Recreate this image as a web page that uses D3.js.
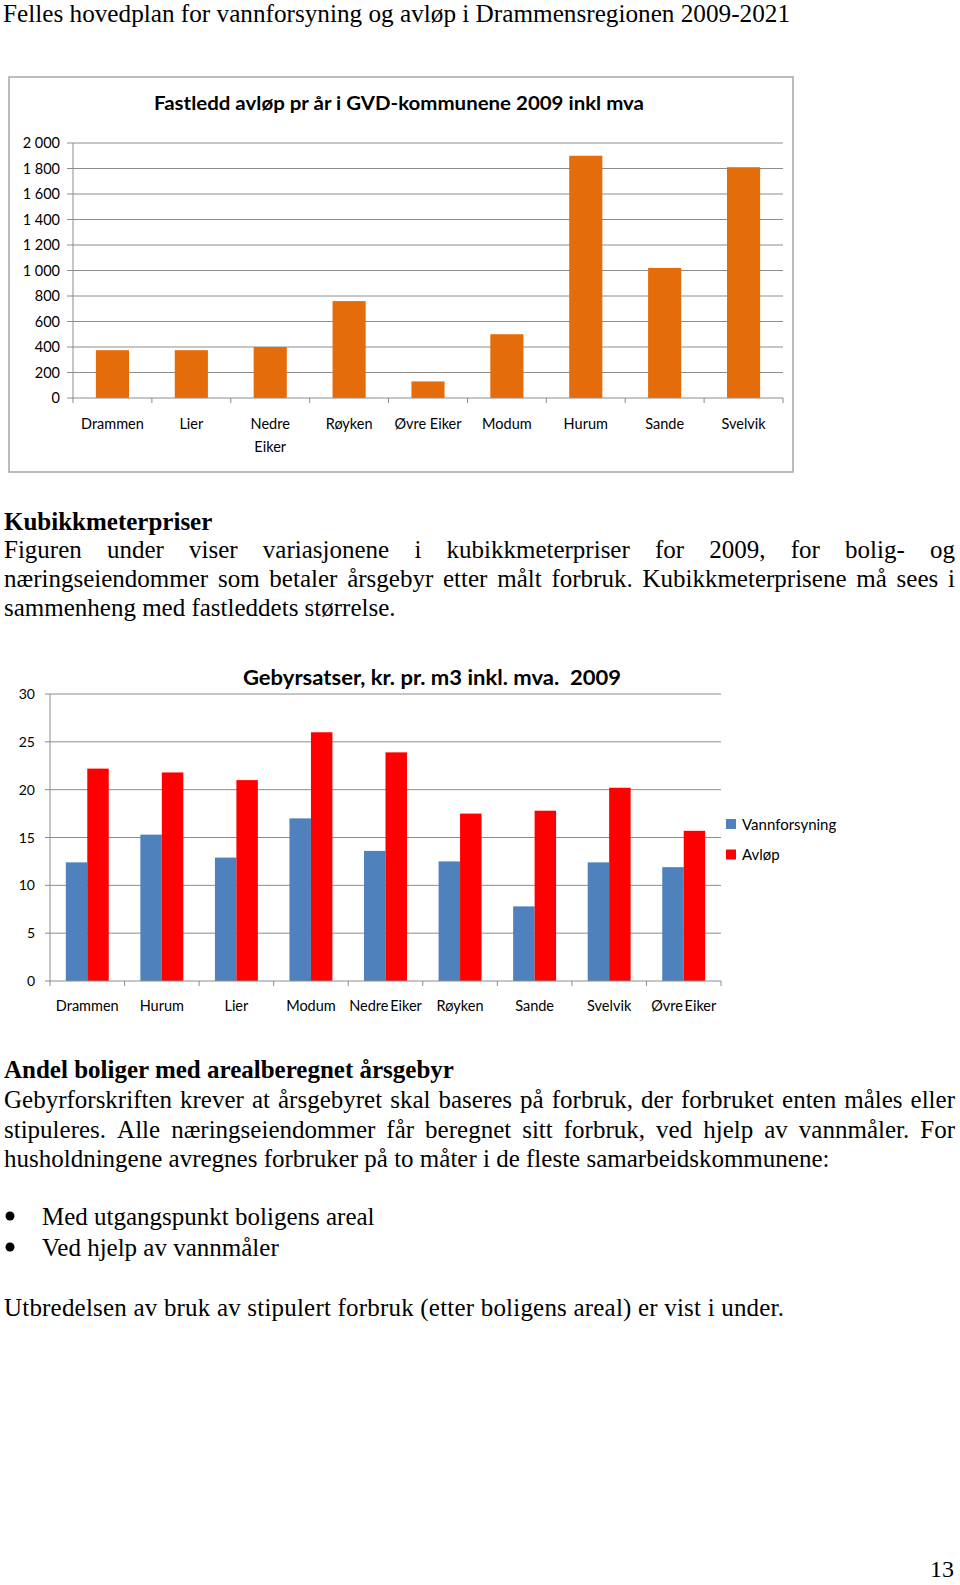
<!DOCTYPE html>
<html>
<head>
<meta charset="utf-8">
<script src="https://cdn.jsdelivr.net/npm/d3@7"></script>
<style>
  body { margin: 0; background: #fff; }
  svg { display: block; }
</style>
</head>
<body>
<svg id="page" width="960" height="1585"></svg>
<script>
// top chart: fixed charge per year
const topCats = ["Drammen", "Lier", "Nedre\nEiker", "Røyken", "Øvre Eiker", "Modum", "Hurum", "Sande", "Svelvik"];
const topValues = [375, 375, 400, 760, 130, 500, 1900, 1020, 1810];
const topTicks = [0, 200, 400, 600, 800, 1000, 1200, 1400, 1600, 1800, 2000];

// bottom chart: price per m3
const bottomCats = ["Drammen", "Hurum", "Lier", "Modum", "Nedre Eiker", "Røyken", "Sande", "Svelvik", "Øvre Eiker"];
const vannforsyning = [12.4, 15.3, 12.9, 17.0, 13.6, 12.5, 7.8, 12.4, 11.9];
const avlop = [22.2, 21.8, 21.0, 26.0, 23.9, 17.5, 17.8, 20.2, 15.7];
const bottomTicks = [0, 5, 10, 15, 20, 25, 30];
const seriesNames = ["Vannforsyning", "Avløp"];

const chartFont = "Lato, 'Open Sans', sans-serif";
const bodyFont = "'Liberation Serif', 'Times New Roman', serif";
const gridColour = "#8c8c8c";

const svg = d3.select("#page");

const fmt = d3.formatLocale({ decimal: ",", thousands: " ", grouping: [3], currency: ["", ""] }).format(",d");

const justifyLine = (text, x0, x1, y, size, weight) => {
    const words = text.split(" ");
    const nodes = words.map(w => svg.append("text")
        .attr("y", y)
        .attr("font-family", bodyFont)
        .attr("font-size", size)
        .attr("font-weight", weight || "normal")
        .attr("fill", "#000")
        .text(w));
    const widths = nodes.map(n => n.node().getComputedTextLength());
    const gap = (x1 - x0 - d3.sum(widths)) / (words.length - 1);
    let x = x0;
    nodes.forEach((n, i) => {
        n.attr("x", x);
        x += widths[i] + gap;
    });
};

const plainLine = (text, x, y, size, weight) => svg.append("text")
    .attr("x", x)
    .attr("y", y)
    .attr("font-family", bodyFont)
    .attr("font-size", size)
    .attr("font-weight", weight || "normal")
    .attr("fill", "#000")
    .text(text);

// page header
svg.append("text")
    .attr("x", 3).attr("y", 22)
    .attr("font-family", bodyFont)
    .attr("font-size", 26)
    .attr("textLength", 787)
    .attr("lengthAdjust", "spacingAndGlyphs")
    .text("Felles hovedplan for vannforsyning og avløp i Drammensregionen 2009-2021");

// ---------- top chart ----------
const renderTopChart = () => {
    svg.append("rect")
        .attr("x", 9).attr("y", 77).attr("width", 784).attr("height", 395)
        .attr("fill", "none").attr("stroke", "#a6a6a6").attr("stroke-width", 1.5);

    svg.append("text")
        .attr("x", 399).attr("y", 110)
        .attr("text-anchor", "middle")
        .attr("font-family", chartFont).attr("font-weight", "bold").attr("font-size", 18)
        .attr("textLength", 490).attr("lengthAdjust", "spacingAndGlyphs")
        .text("Fastledd avløp pr år i GVD-kommunene 2009 inkl mva");

    const left = 73, right = 783, top = 143, bottom = 398;
    const x = d3.scaleBand().domain(topCats).range([left, right]).paddingInner(0.58).paddingOuter(0.29);
    const y = d3.scaleLinear().domain([0, 2000]).range([bottom, top]);

    const g = svg.append("g");

    g.selectAll(".grid").data(topTicks.slice(1)).join("line")
        .attr("class", "grid")
        .attr("x1", left - 6).attr("x2", right)
        .attr("y1", d => y(d)).attr("y2", d => y(d))
        .attr("stroke", gridColour).attr("stroke-width", 1);

    g.append("line").attr("x1", left).attr("x2", left).attr("y1", top).attr("y2", bottom + 0.5)
        .attr("stroke", gridColour);

    g.selectAll(".bar").data(topValues).join("rect")
        .attr("class", "bar")
        .attr("x", (d, i) => x(topCats[i]))
        .attr("width", x.bandwidth())
        .attr("y", d => y(d))
        .attr("height", d => bottom - y(d))
        .attr("fill", "#e46c0a");

    // x axis with ticks between categories
    g.append("line").attr("x1", left - 6).attr("x2", right).attr("y1", bottom).attr("y2", bottom)
        .attr("stroke", gridColour);
    const step = x.step();
    g.selectAll(".xtick").data(d3.range(topCats.length + 1)).join("line")
        .attr("class", "xtick")
        .attr("x1", i => left + i * step).attr("x2", i => left + i * step)
        .attr("y1", bottom).attr("y2", bottom + 5)
        .attr("stroke", gridColour);

    g.selectAll(".ylab").data(topTicks).join("text")
        .attr("class", "ylab")
        .attr("x", 60).attr("y", d => y(d) + 5)
        .attr("text-anchor", "end")
        .attr("font-family", chartFont).attr("font-size", 14.5)
        .text(d => fmt(d));

    const labels = g.selectAll(".xlab").data(topCats).join("text")
        .attr("class", "xlab")
        .attr("text-anchor", "middle")
        .attr("font-family", chartFont).attr("font-size", 14.5);
    labels.each(function(d) {
        const cx = x(d) + x.bandwidth() / 2;
        d3.select(this).selectAll("tspan").data(d.split("\n")).join("tspan")
            .attr("x", cx)
            .attr("y", (t, i) => 429 + i * 22.5)
            .text(t => t);
    });
};

// ---------- bottom chart ----------
const renderBottomChart = () => {
    const left = 50, right = 721, top = 694, bottom = 981;
    const x = d3.scaleBand().domain(bottomCats).range([left, right]).paddingInner(0.424).paddingOuter(0.212);
    const xs = d3.scaleBand().domain(seriesNames).range([0, x.bandwidth()]);
    const y = d3.scaleLinear().domain([0, 30]).range([bottom, top]);
    const colours = d3.scaleOrdinal().domain(seriesNames).range(["#4f81bd", "#ff0000"]);

    svg.append("text")
        .attr("x", 432).attr("y", 685)
        .attr("text-anchor", "middle")
        .attr("font-family", chartFont).attr("font-weight", "bold").attr("font-size", 20.5)
        .attr("textLength", 378).attr("lengthAdjust", "spacingAndGlyphs")
        .attr("xml:space", "preserve")
        .text("Gebyrsatser, kr. pr. m3 inkl. mva.  2009");

    const g = svg.append("g");

    g.selectAll(".grid").data(bottomTicks.slice(1)).join("line")
        .attr("class", "grid")
        .attr("x1", left - 5).attr("x2", right)
        .attr("y1", d => y(d)).attr("y2", d => y(d))
        .attr("stroke", gridColour).attr("stroke-width", 1);

    g.append("line").attr("x1", left).attr("x2", left).attr("y1", top).attr("y2", bottom + 0.5)
        .attr("stroke", gridColour);

    const rows = bottomCats.map((c, i) => ({ cat: c, values: [vannforsyning[i], avlop[i]] }));

    g.selectAll(".group").data(rows).join("g")
        .attr("class", "group")
        .attr("transform", d => `translate(${x(d.cat)},0)`)
        .selectAll("rect").data(d => d.values.map((v, i) => ({ key: seriesNames[i], value: v })))
        .join("rect")
        .attr("x", d => xs(d.key))
        .attr("width", xs.bandwidth())
        .attr("y", d => y(d.value))
        .attr("height", d => bottom - y(d.value))
        .attr("fill", d => colours(d.key));

    g.append("line").attr("x1", left - 5).attr("x2", right).attr("y1", bottom).attr("y2", bottom)
        .attr("stroke", gridColour);
    const step = x.step();
    g.selectAll(".xtick").data(d3.range(bottomCats.length + 1)).join("line")
        .attr("class", "xtick")
        .attr("x1", i => left + i * step).attr("x2", i => left + i * step)
        .attr("y1", bottom).attr("y2", bottom + 5)
        .attr("stroke", gridColour);

    g.selectAll(".ylab").data(bottomTicks).join("text")
        .attr("class", "ylab")
        .attr("x", 35).attr("y", d => y(d) + 5)
        .attr("text-anchor", "end")
        .attr("font-family", chartFont).attr("font-size", 14)
        .text(d => d);

    g.selectAll(".xlab").data(bottomCats).join("text")
        .attr("class", "xlab")
        .attr("x", d => x(d) + x.bandwidth() / 2)
        .attr("y", 1011)
        .attr("text-anchor", "middle")
        .attr("font-family", chartFont).attr("font-size", 14.5)
        .attr("word-spacing", -2)
        .text(d => d);

    const legend = g.selectAll(".legend").data(seriesNames).join("g")
        .attr("class", "legend")
        .attr("transform", (d, i) => `translate(726,${819 + i * 30.5})`);
    legend.append("rect").attr("width", 10).attr("height", 10).attr("fill", d => colours(d));
    legend.append("text").attr("x", 16).attr("y", 10.5)
        .attr("font-family", chartFont).attr("font-size", 15)
        .text(d => d);
};

renderTopChart();
renderBottomChart();

// ---------- body text ----------
const L = 4, R = 955, fs = 25;
plainLine("Kubikkmeterpriser", L, 530, fs, "bold");
justifyLine("Figuren under viser variasjonene i kubikkmeterpriser for 2009, for bolig- og", L, R, 558, fs);
justifyLine("næringseiendommer som betaler årsgebyr etter målt forbruk. Kubikkmeterprisene må sees i", L, R, 587, fs);
plainLine("sammenheng med fastleddets størrelse.", L, 616, fs);

plainLine("Andel boliger med arealberegnet årsgebyr", L, 1078, fs, "bold");
justifyLine("Gebyrforskriften krever at årsgebyret skal baseres på forbruk, der forbruket enten måles eller", L, R, 1108, fs);
justifyLine("stipuleres. Alle næringseiendommer får beregnet sitt forbruk, ved hjelp av vannmåler. For", L, R, 1138, fs);
plainLine("husholdningene avregnes forbruker på to måter i de fleste samarbeidskommunene:", L, 1167, fs);

["Med utgangspunkt boligens areal", "Ved hjelp av vannmåler"].forEach((t, i) => {
    svg.append("circle").attr("cx", 10).attr("cy", 1216 + i * 31).attr("r", 4.5).attr("fill", "#000");
    plainLine(t, 42, 1225 + i * 31, fs);
});

svg.append("text")
    .attr("x", L).attr("y", 1316)
    .attr("font-family", bodyFont).attr("font-size", fs)
    .attr("textLength", 780).attr("lengthAdjust", "spacing")
    .text("Utbredelsen av bruk av stipulert forbruk (etter boligens areal) er vist i under.");

plainLine("13", 930, 1577, 24);
</script>
</body>
</html>
